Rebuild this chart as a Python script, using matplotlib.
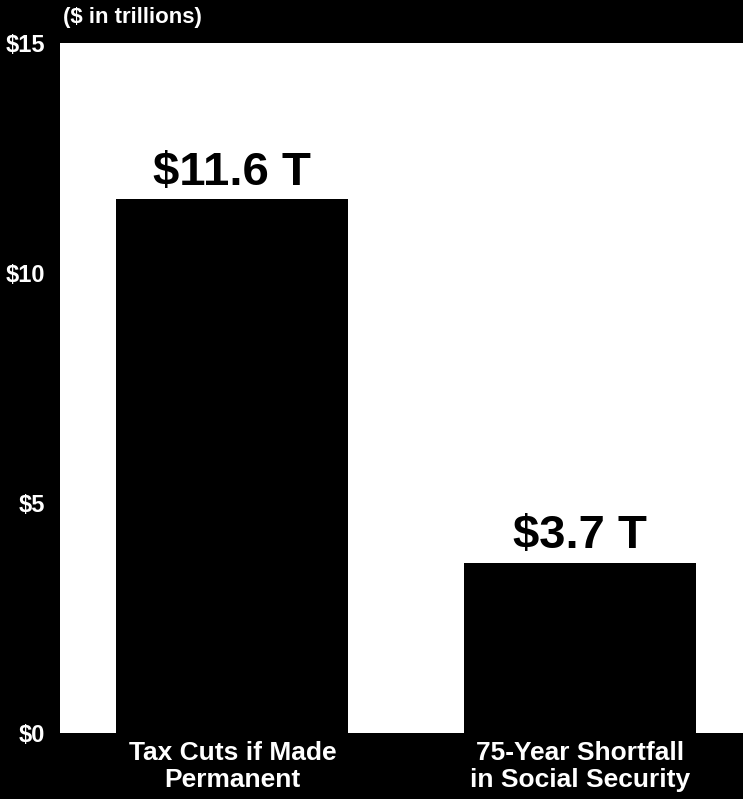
import matplotlib.pyplot as plt

categories = ["Tax Cuts if Made\nPermanent", "75-Year Shortfall\nin Social Security"]
values = [11.6, 3.7]
value_labels = ["$11.6 T", "$3.7 T"]
yticks = [0, 5, 10, 15]
ytick_labels = ["$0", "$5", "$10", "$15"]

fig = plt.figure(figsize=(7.43, 7.99), dpi=100, facecolor="black")
ax = fig.add_axes([60 / 743, 66 / 799, 683 / 743, 690 / 799])
ax.set_facecolor("white")

x = range(len(values))
bars = ax.bar(x, values, width=0.668, color="black", zorder=2)
for b, lab in zip(bars, value_labels):
    ax.text(b.get_x() + b.get_width() / 2, b.get_height() + 0.1, lab,
            ha="center", va="bottom", fontsize=34, fontweight="bold",
            family="Liberation Sans", color="black")

ax.set_xlim(-0.496, 1.469)
ax.set_ylim(0, 15)
ax.set_yticks(yticks)
ax.set_yticklabels(ytick_labels, fontsize=17, fontweight="bold",
                   family="Liberation Sans", color="white")
ax.set_xticks(list(x))
ax.set_xticklabels(categories, fontsize=19, fontweight="bold",
                   family="Liberation Sans", color="white", linespacing=1.12)
ax.tick_params(axis="both", length=0)
ax.tick_params(axis="y", pad=11)
ax.tick_params(axis="x", pad=6)
for s in ax.spines.values():
    s.set_visible(False)

fig.text(63 / 743, 1 - 18 / 799, "($ in trillions)", ha="left", va="center",
         fontsize=16, fontweight="bold", family="Liberation Sans", color="white")

fig.savefig("out.png", dpi=100, facecolor="black")
